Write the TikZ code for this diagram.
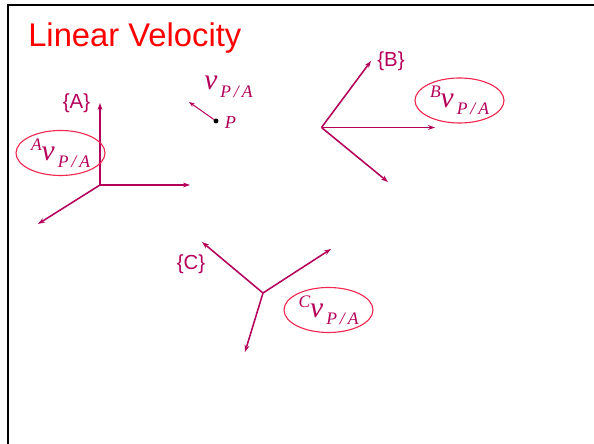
\documentclass[tikz,border=0pt]{standalone}
\usepackage{fontspec}
\setmainfont{Liberation Sans}
\newfontfamily\velfont{Liberation Serif}
\usepackage{xcolor}
\usepackage{tikz}
\usetikzlibrary{arrows.meta, shapes.geometric}

\definecolor{framecol}{RGB}{180,0,90}
\definecolor{ringcol}{RGB}{240,40,80}
\definecolor{titlecol}{RGB}{255,0,0}

% relative velocity with leading frame superscript
\newcommand{\relvel}[1]{{\velfont\itshape
    \fontsize{12.5}{12.5}\selectfont\raisebox{7pt}{#1}%
    \fontsize{21}{21}\selectfont v%
    \fontsize{12.5}{12.5}\selectfont\raisebox{-5pt}{\,P\,/\,A}}}

\begin{document}
\begin{tikzpicture}[x=0.025cm, y=-0.025cm,
        axis/.style={-{Stealth[length=5pt, width=3.5pt]}, line width=1.1pt, framecol},
        velarrow/.style={-{Stealth[length=4pt, width=3pt]}, line width=0.7pt, framecol},
        framelbl/.style={font=\fontsize{14.5}{14.5}\selectfont, text=framecol, inner sep=0pt},
        velbox/.style={ellipse, draw=ringcol, line width=0.8pt, inner sep=0pt, minimum width=2.225cm, minimum height=1.125cm, text=framecol},
        dot/.style={circle, fill=black, inner sep=0pt, minimum size=3.5pt},
    ]
    \useasboundingbox (0, 0) rectangle (594, 444);

    % Slide border
    \draw[line width=2pt] (8, 444) -- (8, 5) -- (594, 5);

    % Title
    \node[anchor=base west, inner sep=0pt, text=titlecol, font=\fontsize{23.3}{23.3}\selectfont] (title) at (28, 47) {Linear Velocity};

    % Frame {A}
    \coordinate (oA) at (100, 185);
    \coordinate (A1) at (100, 103);
    \coordinate (A2) at (190, 185);
    \coordinate (A3) at (38, 224);
    \draw[axis] (oA) -- (A1);
    \draw[axis] (oA) -- (A2);
    \draw[axis] (oA) -- (A3);
    \node[framelbl] (lblA) at (76.5, 103.5) {\{A\}};
    \node[velbox] (velA) at (60.5, 153) {\relvel{A}};

    % Point P and its velocity
    \node[dot] (p) at (216, 121) {};
    \coordinate (pv) at (189, 102);
    \draw[velarrow] (p) -- (pv);
    \node[text=framecol, inner sep=0pt, font=\velfont\itshape\fontsize{13}{13}\selectfont] (plbl) at (230.5, 123) {P};
    \node[anchor=base west, inner sep=0pt, text=framecol] (vel) at (204, 90) {\relvel{}};

    % Frame {B}
    \coordinate (oB) at (321.5, 127.5);
    \coordinate (B1) at (371, 61);
    \coordinate (B2) at (435, 127.5);
    \coordinate (B3) at (388, 182);
    \draw[axis] (oB) -- (B1);
    \draw[axis] (oB) -- (B2);
    \draw[axis] (oB) -- (B3);
    \node[framelbl] (lblB) at (391, 61.5) {\{B\}};
    \node[velbox] (velB) at (459.5, 100.5) {\relvel{B}};

    % Frame {C}
    \coordinate (oC) at (263, 293);
    \coordinate (C1) at (202, 242);
    \coordinate (C2) at (331, 249);
    \coordinate (C3) at (245, 352);
    \draw[axis] (oC) -- (C1);
    \draw[axis] (oC) -- (C2);
    \draw[axis] (oC) -- (C3);
    \node[framelbl] (lblC) at (191, 264) {\{C\}};
    \node[velbox] (velC) at (328.5, 310) {\relvel{C}};

\end{tikzpicture}
\end{document}
